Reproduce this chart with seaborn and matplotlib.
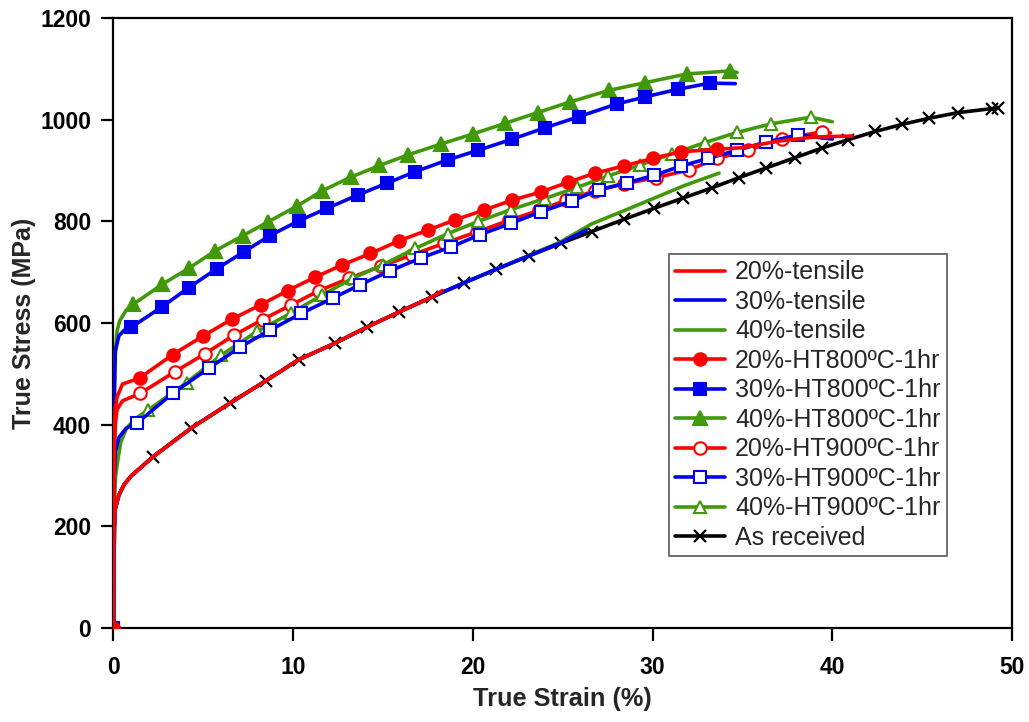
import numpy as np
import pandas as pd
import matplotlib
matplotlib.use("Agg")
import matplotlib.pyplot as plt
import seaborn as sns

# ---------------- data ----------------
# As received
asr_strain = [0, 0.05, 0.1, 0.3, 0.6, 1.0, 2.2, 4.3, 6.5, 8.5, 10.3, 12.3, 14.1, 15.9, 17.7, 19.5,
              21.3, 23.1, 24.9, 26.6, 28.4, 30.1, 31.7, 33.3, 34.8, 36.3, 37.9, 39.4, 40.9, 42.4,
              43.9, 45.4, 47.0, 48.9, 49.2]
asr_stress = [0, 200, 235, 262, 283, 300, 337, 393, 443, 487, 528, 560, 592, 622, 651, 679,
              706, 732, 757, 780, 804, 826, 846, 866, 886, 905, 925, 944, 961, 977,
              991, 1003, 1014, 1022, 1024]

# tensile (no markers)
t20_strain = [0, 0.05, 0.1, 0.3, 0.6, 1.0, 2.2, 4.3, 6.5, 8.5, 10.3, 12.3, 14.1, 15.9, 17.7, 18.3]
t20_stress = [0, 200, 235, 262, 283, 300, 337, 393, 443, 487, 528, 560, 592, 622, 651, 664]
t30_strain = [0, 0.05, 0.1, 0.3, 0.6, 1.0, 2.2, 4.3, 6.5, 8.5, 10.3, 12.3, 14.1, 15.9, 17.7, 19.5,
              21.3, 23.1, 24.9, 26.3]
t30_stress = [0, 200, 235, 262, 283, 300, 337, 393, 443, 487, 528, 560, 592, 622, 651, 679,
              706, 732, 758, 783]
t40_strain = [0, 0.05, 0.1, 0.3, 0.6, 1.0, 2.2, 4.3, 6.5, 8.5, 10.3, 12.3, 14.1, 15.9, 17.7, 19.5,
              21.3, 23.1, 24.9, 26.6, 28.4, 30.1, 31.8, 33.7]
t40_stress = [0, 200, 235, 262, 283, 300, 337, 393, 443, 487, 528, 560, 592, 622, 651, 679,
              706, 733, 760, 795, 821, 846, 871, 895]

# HT800
h800_20_strain = [0, 0.05, 0.1, 0.2, 0.5, 1.45, 3.3, 5.0, 6.6, 8.2, 9.7, 11.2, 12.7, 14.3, 15.9,
                  17.5, 19.0, 20.6, 22.2, 23.8, 25.3, 26.8, 28.4, 30.0, 31.6, 33.6, 35.0, 37.0,
                  39.0, 41.1]
h800_20_stress = [0, 380, 430, 455, 480, 492, 538, 575, 608, 636, 664, 690, 714, 737, 762,
                  783, 803, 822, 842, 858, 877, 895, 909, 924, 937, 942, 945, 958, 966, 968]
h800_30_strain = [0, 0.05, 0.1, 0.3, 0.6, 1.0, 2.7, 4.2, 5.75, 7.25, 8.7, 10.3, 11.9, 13.6, 15.2,
                  16.8, 18.6, 20.3, 22.2, 24.0, 25.9, 28.0, 29.6, 31.4, 33.2, 34.6]
h800_30_stress = [0, 470, 545, 575, 586, 592, 632, 670, 707, 740, 772, 801, 826, 852, 875,
                  898, 921, 940, 962, 984, 1006, 1031, 1045, 1060, 1072, 1071]
h800_40_strain = [0, 0.05, 0.1, 0.2, 0.35, 0.7, 1.1, 2.7, 4.2, 5.65, 7.2, 8.6, 10.2, 11.6, 13.2,
                  14.8, 16.4, 18.2, 20.0, 21.8, 23.6, 25.4, 27.6, 29.6, 31.9, 34.3, 34.7]
h800_40_stress = [0, 450, 540, 585, 605, 625, 637, 676, 708, 742, 772, 799, 830, 860, 887,
                  910, 931, 952, 972, 993, 1014, 1035, 1058, 1073, 1090, 1096, 1093]

# HT900
h900_20_strain = [0, 0.05, 0.1, 0.2, 0.5, 1.5, 3.4, 5.1, 6.7, 8.3, 9.85, 11.45, 13.1, 14.9, 16.6,
                  18.4, 20.2, 22.0, 23.7, 25.2, 26.8, 28.4, 30.2, 32.0, 33.6, 35.3, 37.2, 39.4,
                  39.9]
h900_20_stress = [0, 340, 400, 430, 447, 462, 504, 540, 576, 607, 635, 664, 688, 712, 734,
                  757, 779, 802, 822, 842, 860, 874, 886, 901, 924, 940, 962, 976, 974]
h900_30_strain = [0, 0.05, 0.1, 0.3, 0.7, 1.3, 3.3, 5.3, 7.05, 8.7, 10.45, 12.2, 13.7, 15.4, 17.1,
                  18.8, 20.4, 22.1, 23.8, 25.5, 27.0, 28.6, 30.1, 31.6, 33.1, 34.7, 36.3, 38.1,
                  40.0]
h900_30_stress = [0, 300, 345, 375, 393, 403, 462, 511, 553, 586, 619, 649, 675, 703, 728,
                  750, 774, 796, 819, 840, 862, 876, 891, 909, 924, 940, 956, 970, 962]
h900_40_strain = [0, 0.05, 0.12, 0.26, 0.4, 0.72, 1.2, 1.93, 4.07, 6.0, 8.0, 9.85, 11.6, 13.3,
                  15.0, 16.8, 18.6, 20.3, 22.1, 24.0, 25.8, 27.5, 29.3, 31.1, 32.9, 34.7, 36.6,
                  38.8, 40.0]
h900_40_stress = [0, 250, 300, 335, 365, 393, 412, 429, 483, 537, 584, 619, 655, 688,
                  715, 747, 776, 800, 823, 845, 867, 889, 911, 933, 955, 975, 992,
                  1005, 996]

labels = ["20%-tensile", "30%-tensile", "40%-tensile",
          "20%-HT800ºC-1hr", "30%-HT800ºC-1hr", "40%-HT800ºC-1hr",
          "20%-HT900ºC-1hr", "30%-HT900ºC-1hr", "40%-HT900ºC-1hr",
          "As received"]

# ---------------- style ----------------
RED = "#ff0000"
BLUE = "#0000ee"
GREEN = "#41990a"
BLACK = "#000000"

sns.set_theme(style="ticks")
plt.rcParams["font.family"] = ["Liberation Sans", "DejaVu Sans"]

fig = plt.figure(figsize=(10.29, 7.22), dpi=100)
ax = fig.add_axes([0.1103, 0.130, 0.8732, 0.845])

LW = 2.6


def draw(xs, ys, color, label, marker=None, mfc=None, ms=8, n_pre=0, n_post=0, z=2, mew=1.5):
    kw = dict(color=color, linewidth=LW, zorder=z)
    if marker is not None:
        n = len(xs)
        idx = [0] + list(range(n_pre, n - n_post))
        kw.update(marker=marker, markevery=idx, markersize=ms,
                  markerfacecolor=mfc if mfc is not None else color,
                  markeredgecolor=color, markeredgewidth=mew)
    df = pd.DataFrame({"x": xs, "y": ys})
    sns.lineplot(data=df, x="x", y="y", ax=ax, estimator=None, sort=False,
                 label=label, **kw)


# As received (x markers, drawn underneath)
draw(asr_strain, asr_stress, BLACK, labels[9], marker="x", ms=9, n_pre=6, z=2, mew=1.6)
# tensile
draw(t40_strain, t40_stress, GREEN, labels[2], z=3)
draw(t30_strain, t30_stress, BLUE, labels[1], z=3.1)
draw(t20_strain, t20_stress, RED, labels[0], z=3.2)
# HT900 (open markers)
draw(h900_20_strain, h900_20_stress, RED, labels[6], marker="o", mfc="white", ms=9, n_pre=5, n_post=1, z=4)
draw(h900_40_strain, h900_40_stress, GREEN, labels[8], marker="^", mfc="white", ms=9, n_pre=7, n_post=1, z=4.1)
draw(h900_30_strain, h900_30_stress, BLUE, labels[7], marker="s", mfc="white", ms=8, n_pre=5, n_post=1, z=4.2)
# HT800 (filled markers)
draw(h800_40_strain, h800_40_stress, GREEN, labels[5], marker="^", ms=10, n_pre=6, n_post=1, z=5)
draw(h800_30_strain, h800_30_stress, BLUE, labels[4], marker="s", ms=8, n_pre=5, n_post=1, z=5.1)
draw(h800_20_strain, h800_20_stress, RED, labels[3], marker="o", ms=9, n_pre=5, n_post=4, z=5.2)

ax.set_xlim(0, 50)
ax.set_ylim(0, 1200)
ax.set_xticks(np.arange(0, 51, 10))
ax.set_yticks(np.arange(0, 1201, 200))

ax.set_xlabel("True Strain (%)", fontsize=18.3, fontweight="bold", labelpad=6)
ax.set_ylabel("True Stress (MPa)", fontsize=18, fontweight="bold", labelpad=3)

for s in ax.spines.values():
    s.set_visible(True)
    s.set_linewidth(1.6)
    s.set_color("black")
ax.tick_params(axis="both", direction="out", length=9, width=1.6, labelsize=16.5,
               colors="black")
ax.tick_params(axis="x", pad=11)
ax.tick_params(axis="y", pad=7)
for t in ax.get_xticklabels() + ax.get_yticklabels():
    t.set_fontweight("bold")

# legend in the reference order
handles, labs = ax.get_legend_handles_labels()
hmap = dict(zip(labs, handles))
leg = ax.legend([hmap[l] for l in labels], labels,
                loc="upper left", bbox_to_anchor=(0.618, 0.613), borderaxespad=0,
                frameon=True, fancybox=False, edgecolor="#555555", framealpha=1,
                fontsize=18, handlelength=2.0, handletextpad=0.4,
                labelspacing=0.22, borderpad=0.25)
leg.get_frame().set_linewidth(1.2)

fig.savefig("out.png", dpi=100)
